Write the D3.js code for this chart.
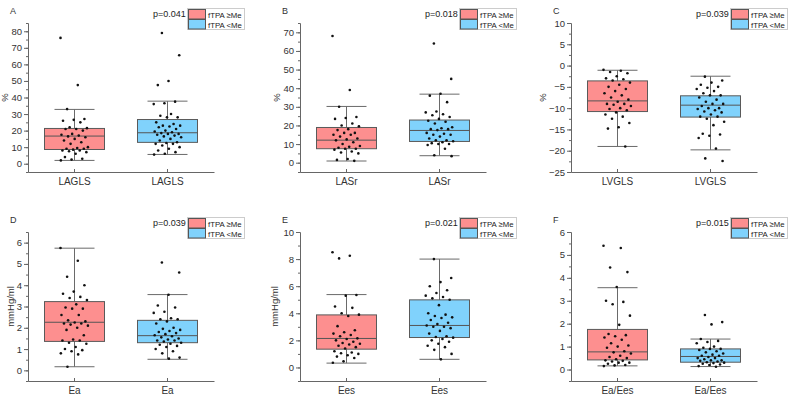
<!DOCTYPE html>
<html>
<head>
<meta charset="utf-8">
<script src="https://cdn.jsdelivr.net/npm/d3@7"></script>
<style>
  body { margin: 0; background: #fff; }
  svg { font-family: "Liberation Sans", Arial, sans-serif; }
  .tick text { fill: #333; font-size: 9.5px; }
  .axis path, .axis line { stroke: #666; }
</style>
</head>
<body>
<script>
//box stats: [whisker low, q1, median, q3, whisker high]
var groups = ["fTPA \u2265Me", "fTPA <Me"];

var laglsHiBox = [2.0, 8.6, 16.7, 21.3, 32.8];
var laglsLoBox = [5.6, 12.9, 18.7, 26.7, 37.8];
var laglsHi = [76, 47.5, 33, 27, 26.5, 26, 25, 22, 21.5, 21, 21, 20, 18, 17.5, 17, 16.5, 16, 15, 14, 13, 12, 10, 9.5, 9, 9, 8.5, 8, 8, 7.5, 7, 6, 4, 3, 2.5, 2];
var laglsLo = [79, 65.5, 50, 47.5, 37.5, 36.5, 36, 30, 29, 28, 28, 25, 24, 23, 23, 22.5, 22, 21, 20, 19.5, 19, 18.5, 18, 18, 17.5, 17, 16.5, 16, 15, 14, 13, 12.5, 12, 12, 11, 10, 9, 8, 7, 6, 5.5];

var lasrHiBox = [0.9, 7.5, 12.1, 18.9, 30.2];
var lasrLoBox = [3.75, 11.4, 17.3, 22.9, 36.8];
var lasrHi = [68, 39, 30, 24.5, 24, 23.5, 21, 20, 19.5, 18, 17.5, 16, 16, 15, 15, 14, 13, 12.5, 12, 11, 10, 9, 8.5, 8, 7.5, 7.5, 7, 6, 5.5, 5, 2, 1.5, 1];
var lasrLo = [64, 45, 37, 36, 32.5, 27.5, 27, 26, 25.5, 24.5, 23.5, 22.5, 22, 21, 19, 18.5, 18, 18, 17.5, 16, 15.5, 15, 15, 14, 13, 12, 12, 11.5, 11, 10.5, 10, 10, 9.5, 7.5, 4, 3.5];

var lvglsHiBox = [-19.0, -10.8, -8.3, -3.6, -1.1];
var lvglsLoBox = [-19.8, -12.1, -9.3, -7.1, -2.5];
var lvglsHi = [-1, -1.2, -1.5, -1.8, -2.5, -3, -3.2, -3.5, -4, -4.5, -5, -5.5, -6, -6.5, -7, -7.5, -8, -8.5, -9, -9, -9.2, -9.5, -10, -10.2, -10.5, -11, -11.5, -12, -12.5, -13.5, -14.5, -14.8, -19];
var lvglsLo = [-2.6, -3.5, -4, -4.5, -5, -5.2, -5.5, -6, -6.5, -7, -7, -7.5, -8, -8.5, -9, -9, -9.5, -10, -10, -10.2, -10.5, -10.8, -11, -11.5, -12, -12, -12.5, -13.2, -14, -16, -16.2, -16.5, -17, -19.5, -21.8, -22.4];

var eaHiBox = [0.17, 1.36, 2.26, 3.23, 5.74];
var eaLoBox = [0.52, 1.3, 1.63, 2.35, 3.56];
var eaHi = [5.75, 5.15, 4.4, 4.0, 3.7, 3.6, 3.45, 3.4, 3.3, 3.1, 2.95, 2.9, 2.9, 2.6, 2.6, 2.35, 2.3, 2.25, 2.2, 2.2, 2.15, 2.1, 2.0, 1.9, 1.65, 1.45, 1.4, 1.4, 1.3, 1.25, 1.1, 1.0, 0.95, 0.9, 0.8, 0.75, 0.17];
var eaLo = [5.07, 4.6, 3.55, 3.05, 2.95, 2.75, 2.7, 2.45, 2.4, 2.4, 2.3, 2.2, 2.0, 1.95, 1.9, 1.85, 1.8, 1.75, 1.7, 1.65, 1.6, 1.55, 1.5, 1.45, 1.4, 1.4, 1.35, 1.3, 1.25, 1.2, 1.15, 1.1, 1.0, 0.9, 0.8, 0.6, 0.55];

var eesHiBox = [0.32, 1.35, 2.14, 3.88, 5.38];
var eesLoBox = [0.6, 2.21, 3.1, 4.99, 8.0];
var eesHi = [8.5, 8.25, 8.05, 5.35, 5.3, 4.5, 4.4, 4.0, 3.9, 3.8, 3.05, 2.75, 2.6, 2.5, 2.4, 2.3, 2.15, 2.1, 2.0, 1.9, 1.8, 1.75, 1.7, 1.6, 1.5, 1.4, 1.2, 1.1, 1.05, 1.0, 0.9, 0.8, 0.7, 0.45, 0.35];
var eesLo = [8.0, 6.6, 6.3, 6.0, 5.7, 5.5, 5.3, 5.2, 5.1, 5.0, 4.6, 4.0, 3.9, 3.8, 3.7, 3.65, 3.5, 3.3, 3.2, 3.1, 3.0, 3.0, 2.9, 2.7, 2.5, 2.3, 2.25, 2.2, 2.1, 2.0, 1.9, 1.75, 1.6, 1.5, 1.3, 1.0, 0.6];

var ratioHiBox = [0.16, 0.42, 0.77, 1.75, 3.57];
var ratioLoBox = [0.13, 0.32, 0.57, 0.9, 1.33];
var ratioHi = [5.4, 5.3, 4.45, 4.25, 3.6, 3.0, 2.95, 2.85, 2.35, 1.95, 1.55, 1.5, 1.45, 1.4, 1.3, 1.15, 1.05, 1.0, 0.95, 0.8, 0.75, 0.7, 0.6, 0.55, 0.5, 0.45, 0.4, 0.38, 0.35, 0.3, 0.3, 0.25, 0.2, 0.18, 0.15];
var ratioLo = [2.38, 2.07, 1.97, 1.33, 1.25, 1.2, 1.15, 1.0, 0.95, 0.9, 0.9, 0.85, 0.8, 0.75, 0.7, 0.65, 0.6, 0.6, 0.55, 0.5, 0.5, 0.45, 0.4, 0.4, 0.38, 0.35, 0.32, 0.3, 0.28, 0.25, 0.22, 0.2, 0.15, 0.12];

var pValues = ["p=0.041", "p=0.018", "p=0.039", "p=0.039", "p=0.021", "p=0.015"];

var panels = [
    {id: "A", cat: "LAGLS", unit: "%", dom: [-5, 85], ticks: d3.range(0, 81, 10), minor: 5, box: [laglsHiBox, laglsLoBox], pts: [laglsHi, laglsLo], titleOff: 20},
    {id: "B", cat: "LASr", unit: "%", dom: [-5, 75], ticks: d3.range(0, 71, 10), minor: 5, box: [lasrHiBox, lasrLoBox], pts: [lasrHi, lasrLo], titleOff: 20},
    {id: "C", cat: "LVGLS", unit: "%", dom: [-25, 10], ticks: d3.range(-25, 11, 5), minor: 2.5, box: [lvglsHiBox, lvglsLoBox], pts: [lvglsHi, lvglsLo], titleOff: 25},
    {id: "D", cat: "Ea", unit: "mmHg/ml", dom: [-0.5, 6.5], ticks: d3.range(0, 7, 1), minor: 0.5, box: [eaHiBox, eaLoBox], pts: [eaHi, eaLo], titleOff: 14},
    {id: "E", cat: "Ees", unit: "mmHg/ml", dom: [-1, 10], ticks: d3.range(0, 11, 2), minor: 1, box: [eesHiBox, eesLoBox], pts: [eesHi, eesLo], titleOff: 22},
    {id: "F", cat: "Ea/Ees", unit: "", dom: [-0.5, 6], ticks: d3.range(0, 7, 1), minor: 0.5, box: [ratioHiBox, ratioLoBox], pts: [ratioHi, ratioLo], titleOff: 14}
];

var fills = ["#fd8f8f", "#80d2fc"];

var svg = d3.select("body").append("svg")
    .attr("width", 793)
    .attr("height", 405);

var colX = [28, 300, 571],
    rowY = [[23, 172], [232, 381]],
    plotW = 186;

panels.forEach(function(p, k){
    var x0 = colX[k % 3],
        rr = rowY[Math.floor(k / 3)],
        g = svg.append("g");

    var y = d3.scaleLinear().domain(p.dom).range([rr[1], rr[0]]);
    var x = d3.scaleBand().domain(groups).range([x0, x0 + plotW]).paddingInner(0);

    //minor ticks
    var minors = d3.range(Math.ceil(p.dom[0] / p.minor) * p.minor, p.dom[1] + 1e-9, p.minor);
    g.append("g")
        .attr("class", "axis")
        .attr("transform", "translate(" + x0 + ",0)")
        .call(d3.axisLeft(y).tickValues(minors).tickSize(2).tickSizeOuter(0).tickFormat(""));

    g.append("g")
        .attr("class", "axis")
        .attr("transform", "translate(" + x0 + ",0)")
        .call(d3.axisLeft(y).tickValues(p.ticks).tickSize(4).tickSizeOuter(0).tickPadding(2).tickFormat(d3.format("d")));

    //bottom axis
    var xa = g.append("g")
        .attr("class", "axis")
        .attr("transform", "translate(0," + rr[1] + ")")
        .call(d3.axisBottom(x).tickSize(-3).tickSizeOuter(0).tickFormat(function(){ return p.cat; }));
    xa.selectAll("text").attr("y", 0).attr("dy", "1.3em").style("font-size", "10px");

    //y title
    if (p.unit) {
        g.append("text")
            .attr("transform", "translate(" + (x0 - p.titleOff) + "," + ((rr[0] + rr[1]) / 2) + ")rotate(-90)")
            .attr("text-anchor", "middle")
            .style("font-size", "9.5px")
            .attr("fill", "#333")
            .text(p.unit);
    }

    //panel letter
    g.append("text")
        .attr("x", x0 - 18)
        .attr("y", rr[0] - 9)
        .style("font-size", "9px")
        .attr("fill", "#333")
        .text(p.id);

    var boxW = 60, capW = 40;

    groups.forEach(function(grp, j){
        var b = p.box[j],
            cx = x(grp) + x.bandwidth() / 2;

        //whiskers
        g.append("line")
            .attr("x1", cx).attr("x2", cx)
            .attr("y1", y(b[0])).attr("y2", y(b[4]))
            .attr("stroke", "#6a6a6a").attr("stroke-width", 1);
        [b[0], b[4]].forEach(function(v){
            g.append("line")
                .attr("x1", cx - capW / 2).attr("x2", cx + capW / 2)
                .attr("y1", y(v)).attr("y2", y(v))
                .attr("stroke", "#6a6a6a").attr("stroke-width", 1);
        });

        g.append("rect")
            .attr("x", cx - boxW / 2)
            .attr("y", y(b[3]))
            .attr("width", boxW)
            .attr("height", y(b[1]) - y(b[3]))
            .attr("fill", fills[j])
            .attr("stroke", "#5a5a5a")
            .attr("stroke-width", 1);

        g.append("line")
            .attr("x1", cx - boxW / 2).attr("x2", cx + boxW / 2)
            .attr("y1", y(b[2])).attr("y2", y(b[2]))
            .attr("stroke", "#555").attr("stroke-width", 1);

        //points, spread sideways
        g.selectAll(".pt" + j)
            .data(p.pts[j])
            .enter()
            .append("circle")
            .attr("class", "pt" + j)
            .attr("cx", function(d, i){ return cx + (((i * 0.618034 + j * 0.3) % 1) - 0.5) * 28; })
            .attr("cy", function(d){ return y(d); })
            .attr("r", 1.3)
            .attr("fill", "#111");
    });

    //p value
    g.append("text")
        .attr("x", x0 + 125)
        .attr("y", rr[0] - 6)
        .style("font-size", "9px")
        .attr("fill", "#222")
        .text(pValues[k]);

    //legend
    var lg = g.append("g").attr("transform", "translate(" + (x0 + 160) + "," + (rr[0] - 14) + ")");
    lg.append("rect")
        .attr("x", -0.5).attr("y", -0.5)
        .attr("width", 57).attr("height", 21)
        .attr("fill", "none")
        .attr("stroke", "#ccc");
    groups.forEach(function(grp, j){
        lg.append("rect")
            .attr("x", 0.5).attr("y", 0.5 + j * 10)
            .attr("width", 17).attr("height", 9.5)
            .attr("fill", fills[j])
            .attr("stroke", "#555");
        lg.append("text")
            .attr("x", 20).attr("y", 8.5 + j * 10)
            .style("font-size", "7.8px")
            .attr("fill", "#222")
            .text(grp);
    });
});
</script>
</body>
</html>
